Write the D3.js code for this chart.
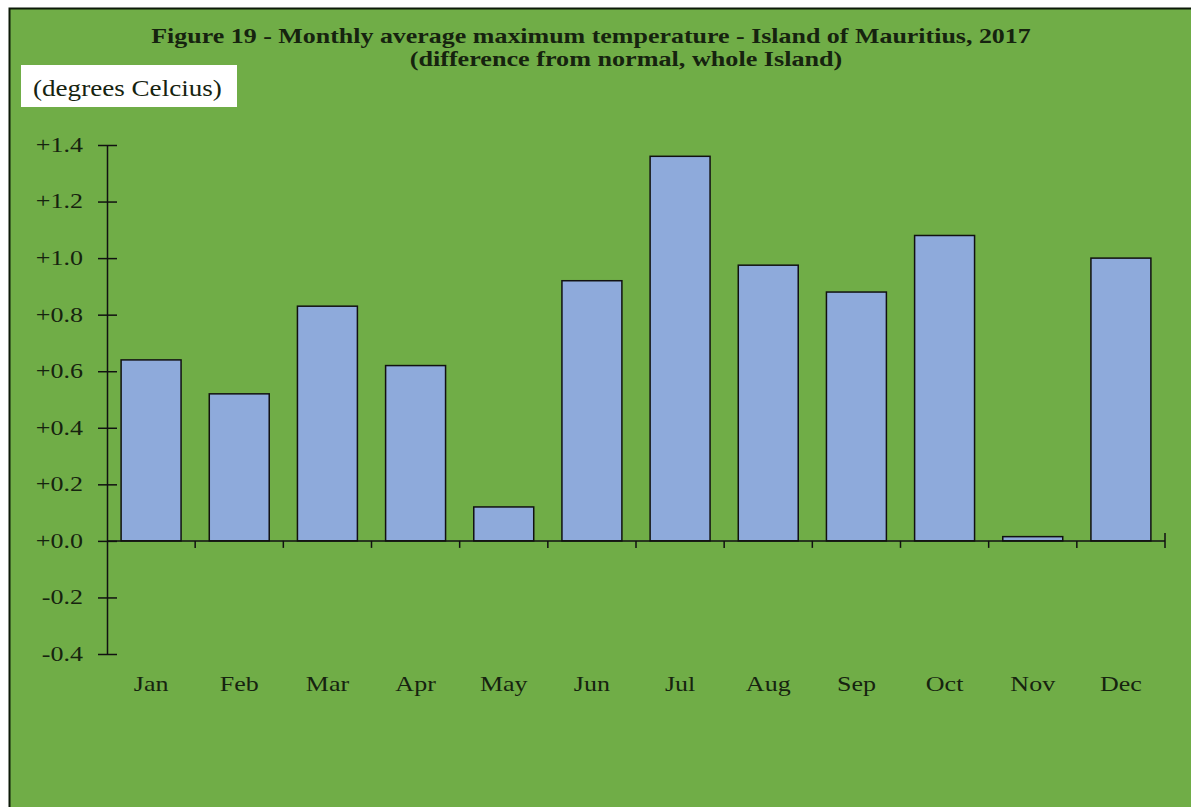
<!DOCTYPE html>
<html>
<head>
<meta charset="utf-8">
<script src="https://cdn.jsdelivr.net/npm/d3@7"></script>
<style>
  body { margin: 0; background: #fff; }
  svg { display: block; }
  text { font-family: "Liberation Serif", "Times New Roman", serif; fill: #16230f; }
</style>
</head>
<body>
<svg id="chart" width="1191" height="807"></svg>
<script>
// ---------- DATA ----------
const months = ['Jan', 'Feb', 'Mar', 'Apr', 'May', 'Jun', 'Jul', 'Aug', 'Sep', 'Oct', 'Nov', 'Dec'];
const anomalies = [0.64, 0.52, 0.83, 0.62, 0.12, 0.92, 1.36, 0.975, 0.88, 1.08, 0.015, 1.0];
const yTicks = [-0.4, -0.2, 0.0, 0.2, 0.4, 0.6, 0.8, 1.0, 1.2, 1.4];
const titleLines = [
  'Figure 19 - Monthly average maximum temperature - Island of Mauritius, 2017',
  '(difference from normal, whole Island)',
];
const unitLabel = '(degrees Celcius)';

// the original picture is stretched sideways: widen glyphs around their anchor point.
// `target` > 10 means a wanted width in px, otherwise a plain factor
function stretch(sel, target) {
  sel.each(function () {
    const t = d3.select(this);
    const w = this.getComputedTextLength();
    const f = target > 10 ? target / w : target;
    const x = +t.attr('x') || 0;
    const y = +t.attr('y') || 0;
    t.attr('x', 0).attr('y', 0).attr('transform', `translate(${x},${y}) scale(${f},1)`);
  });
}

// ---------- CHART ----------
(function initChart() {
  const svg = d3.select('#chart');

  // green panel with dark left/top edge
  svg.append('rect')
    .attr('x', 9).attr('y', 8)
    .attr('width', 1182).attr('height', 799)
    .attr('fill', '#70ad47');
  svg.append('path')
    .attr('d', 'M9.5,807V8.5H1191')
    .attr('fill', 'none')
    .attr('stroke', '#0d1a08')
    .attr('stroke-width', 2);

  // title
  svg.append('text')
    .attr('x', 591).attr('y', 43)
    .attr('text-anchor', 'middle')
    .attr('font-weight', 'bold')
    .attr('font-size', 22)
    .text(titleLines[0])
    .call(stretch, 880);
  svg.append('text')
    .attr('x', 626).attr('y', 66)
    .attr('text-anchor', 'middle')
    .attr('font-weight', 'bold')
    .attr('font-size', 22)
    .text(titleLines[1])
    .call(stretch, 433);

  // unit box
  svg.append('rect')
    .attr('x', 21).attr('y', 65)
    .attr('width', 216).attr('height', 42)
    .attr('fill', '#fff');
  svg.append('text')
    .attr('x', 33).attr('y', 96)
    .attr('font-size', 23)
    .text(unitLabel)
    .call(stretch, 189);

  const left = 107, right = 1165;
  const x = d3.scaleBand().domain(months).range([left, right]).paddingInner(0.32).paddingOuter(0.16);
  const y = d3.scaleLinear().domain([-0.4, 1.4]).range([654, 145]);

  const fmt = (v) => (v < 0 ? '-' : '+') + Math.abs(v).toFixed(1);

  // bars
  svg.selectAll('rect.bar')
    .data(anomalies)
    .join('rect')
    .attr('class', 'bar')
    .attr('x', (d, i) => x(months[i]))
    .attr('width', x.bandwidth())
    .attr('y', (d) => y(Math.max(0, d)))
    .attr('height', (d) => Math.abs(y(d) - y(0)))
    .attr('fill', '#8eaadb')
    .attr('stroke', '#111')
    .attr('stroke-width', 1.5);

  // y axis
  const yAxis = svg.append('g')
    .attr('transform', `translate(${left},0)`)
    .call(d3.axisLeft(y).tickValues(yTicks).tickFormat(fmt).tickSize(0).tickPadding(24));
  yAxis.select('.domain').attr('stroke', '#111').attr('stroke-width', 1.5);
  yAxis.selectAll('.tick line').remove();
  yAxis.selectAll('.tick').append('line')
    .attr('x1', -9).attr('x2', 10)
    .attr('stroke', '#111').attr('stroke-width', 1.5);
  yAxis.selectAll('.tick text')
    .attr('font-size', 20)
    .attr('font-family', '"Liberation Serif", serif')
    .attr('fill', '#16230f')
    .call(stretch, 1.3);

  // x axis along zero, ticks between months
  const boundaries = d3.range(1, months.length + 1).map((i) => left + (right - left) * i / months.length);
  const xAxis = svg.append('g');
  xAxis.append('line')
    .attr('x1', left).attr('x2', right)
    .attr('y1', y(0)).attr('y2', y(0))
    .attr('stroke', '#111').attr('stroke-width', 1.5);
  xAxis.selectAll('line.xt')
    .data(boundaries)
    .join('line')
    .attr('class', 'xt')
    .attr('x1', (d) => d).attr('x2', (d) => d)
    .attr('y1', (d, i) => (i === boundaries.length - 1 ? y(0) - 8 : y(0)))
    .attr('y2', y(0) + 7)
    .attr('stroke', '#111').attr('stroke-width', 1.5);

  // month labels
  svg.selectAll('text.month')
    .data(months)
    .join('text')
    .attr('class', 'month')
    .attr('x', (d) => x(d) + x.bandwidth() / 2)
    .attr('y', 691)
    .attr('text-anchor', 'middle')
    .attr('font-size', 20)
    .text((d) => d)
    .call(stretch, 1.3);
})();
</script>
</body>
</html>
